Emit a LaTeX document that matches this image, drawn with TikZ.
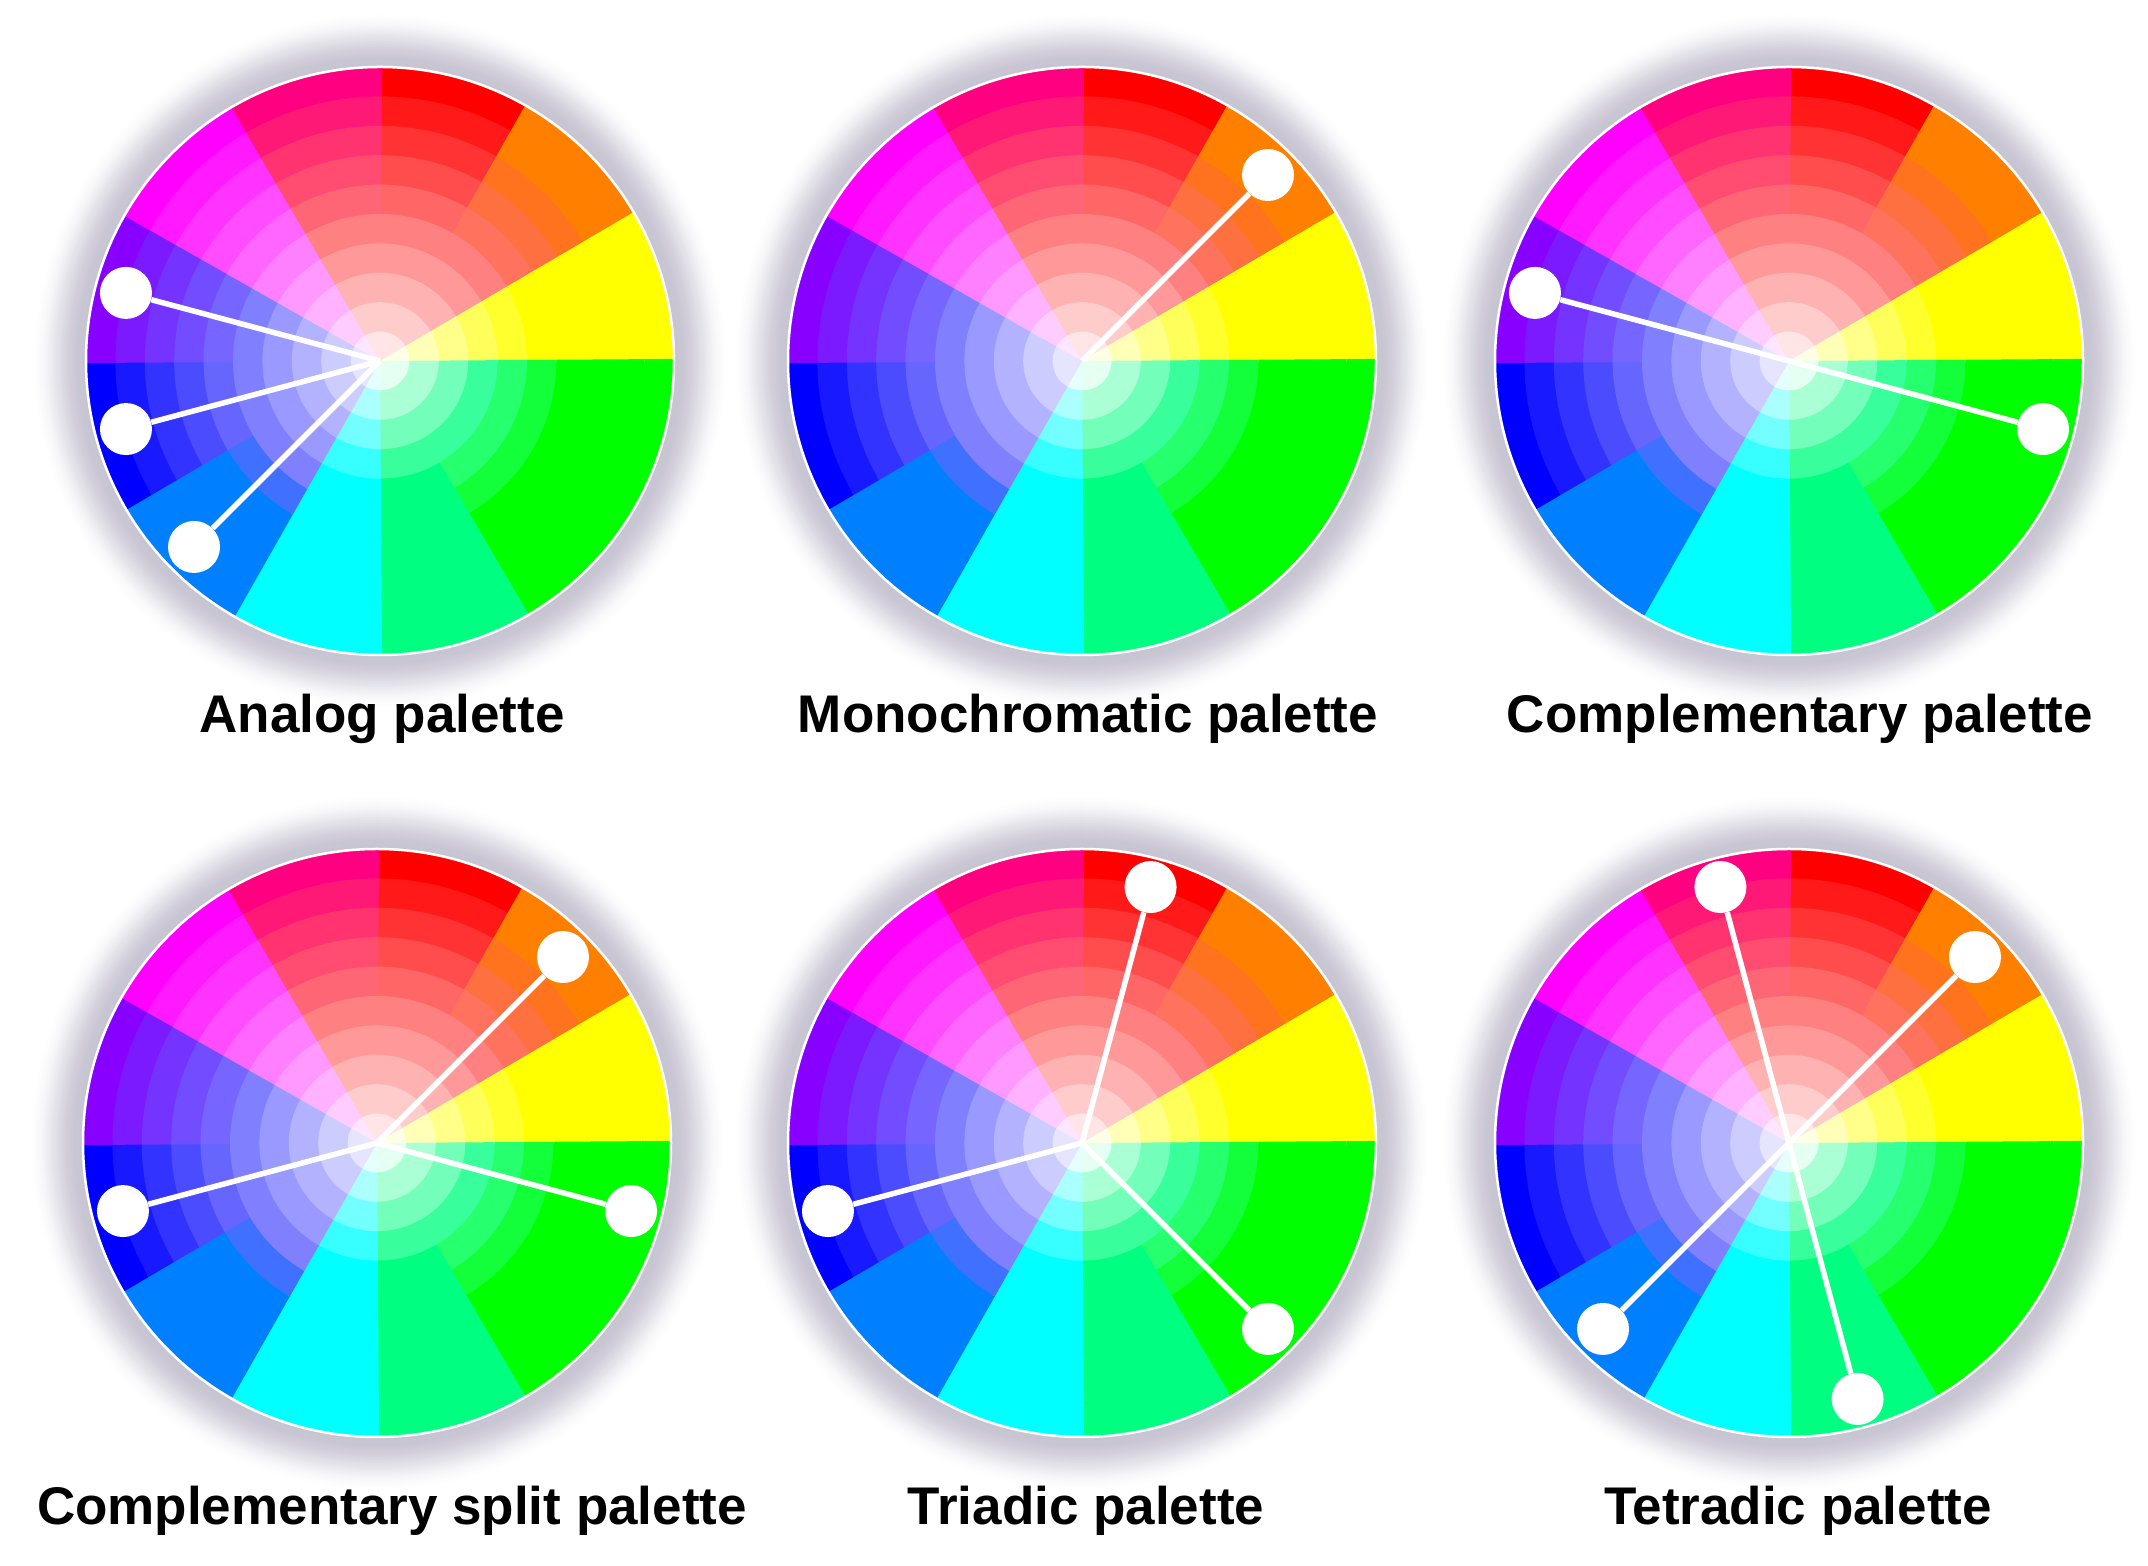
\documentclass[tikz,border=0pt]{standalone}
\usepackage{fontspec}
\setmainfont{Liberation Sans}
\definecolor{cR}{HTML}{FF0000}
\definecolor{cO}{HTML}{FF8000}
\definecolor{cY}{HTML}{FFFF00}
\definecolor{cG}{HTML}{00FF00}
\definecolor{cS}{HTML}{00FF80}
\definecolor{cC}{HTML}{00FFFF}
\definecolor{cA}{HTML}{0080FF}
\definecolor{cB}{HTML}{0000FF}
\definecolor{cV}{HTML}{8800FF}
\definecolor{cM}{HTML}{FF00FF}
\definecolor{cP}{HTML}{FF0080}
\definecolor{halo}{HTML}{C8C5D3}
\tikzset{
  wheeldot/.style={circle, fill=white, minimum size=52pt, inner sep=0pt},
  spoke/.style={white, line width=5.5pt},
  caption/.style={anchor=base, inner sep=0pt, font=\fontsize{53}{60}\selectfont\bfseries},
  rim/.style={white, line width=2.5pt}
}
\newcommand\wheelhalo[1]{%
  \foreach \j in {28,...,0}{%
    \pgfmathsetmacro\xx{max(0,min(1,(2*\j-4)/52))}%
    \pgfmathtruncatemacro\pp{100*(1-\xx*\xx*(3-2*\xx))}%
    \fill[halo!\pp!white] (#1) circle[radius=294+2*\j];
  }}
% sector list: outer colour / inner hue / hue start / hue end / white start / group white start
\newcommand\colorwheel[1]{%
  \foreach \k in {0,...,9}{%
    \pgfmathsetmacro\rr{29.4*(10-\k)}%
    \foreach \base/\grp/\hs/\he/\ws/\gws [count=\i from 0] in
      {cR/cR/0/0/0/0, cO/cR/1/5/1/0, cY/cY/4/4/4/4, cG/cS/3/6/3/5,
       cG/cS/3/6/3/5, cS/cS/5/5/5/5, cC/cC/5/5/5/5, cA/cB/3/5/3/0,
       cB/cB/0/0/0/0, cV/cB/0/5/0/0, cM/cM/0/0/0/0, cP/cR/0/5/0/0}{%
      \pgfmathsetmacro\wgk{90*max(0,\k-\gws)/(9-\gws)}%
      \pgfmathsetmacro\wge{90*max(0,\he-\gws)/(9-\gws)}%
      \pgfmathtruncatemacro\ww{(\k>=\he) ? \wgk : ((\k<=\ws) ? 0 : \wge*(\k-\ws)/max(1,\he-\ws))}%
      \pgfmathtruncatemacro\hh{(\k>=\he) ? 100 : ((\k<=\hs) ? 0 : 100*(\k-\hs)/max(1,\he-\hs))}%
      \colorlet{tmpA}{\grp!\hh!\base}%
      \colorlet{tmpB}{white!\ww!tmpA}%
      \pgfmathsetmacro\aa{90-30*\i+0.4}%
      \pgfmathsetmacro\bb{60-30*\i-0.4}%
      \fill[tmpB] (#1) -- ++(\aa:\rr) arc[start angle=\aa, end angle=\bb, radius=\rr] -- cycle;
    }
  }
  \draw[rim] (#1) circle[radius=294];
}
\begin{document}
\begin{tikzpicture}[x=1pt,y=1pt]
\fill[white] (0,0) rectangle (2148,1566);
\useasboundingbox (0,0) rectangle (2148,1566);
\coordinate (w1) at (380,1205);
\coordinate (w2) at (1082,1205);
\coordinate (w3) at (1789,1205);
\coordinate (w4) at (377,423);
\coordinate (w5) at (1082,423);
\coordinate (w6) at (1789,423);
\foreach \w in {w1,w2,w3,w4,w5,w6}{\wheelhalo{\w}}
\foreach \w in {w1,w2,w3,w4,w5,w6}{\colorwheel{\w}}
% Analog
\node[wheeldot] (a1) at ([shift={(165:263)}]w1) {};
\node[wheeldot] (a2) at ([shift={(195:263)}]w1) {};
\node[wheeldot] (a3) at ([shift={(225:263)}]w1) {};
\draw[spoke] (w1) -- (a1); \draw[spoke] (w1) -- (a2); \draw[spoke] (w1) -- (a3);
% Monochromatic
\node[wheeldot] (m1) at ([shift={(45:263)}]w2) {};
\draw[spoke] (w2) -- (m1);
% Complementary
\node[wheeldot] (c1) at ([shift={(165:263)}]w3) {};
\node[wheeldot] (c2) at ([shift={(-15:263)}]w3) {};
\draw[spoke] (w3) -- (c1); \draw[spoke] (w3) -- (c2);
% Complementary split
\node[wheeldot] (s1) at ([shift={(45:263)}]w4) {};
\node[wheeldot] (s2) at ([shift={(195:263)}]w4) {};
\node[wheeldot] (s3) at ([shift={(-15:263)}]w4) {};
\draw[spoke] (w4) -- (s1); \draw[spoke] (w4) -- (s2); \draw[spoke] (w4) -- (s3);
% Triadic
\node[wheeldot] (t1) at ([shift={(75:265)}]w5) {};
\node[wheeldot] (t2) at ([shift={(195:263)}]w5) {};
\node[wheeldot] (t3) at ([shift={(-45:263)}]w5) {};
\draw[spoke] (w5) -- (t1); \draw[spoke] (w5) -- (t2); \draw[spoke] (w5) -- (t3);
% Tetradic
\node[wheeldot] (q1) at ([shift={(105:265)}]w6) {};
\node[wheeldot] (q2) at ([shift={(45:263)}]w6) {};
\node[wheeldot] (q3) at ([shift={(225:263)}]w6) {};
\node[wheeldot] (q4) at ([shift={(-75:265)}]w6) {};
\draw[spoke] (w6) -- (q1); \draw[spoke] (w6) -- (q2); \draw[spoke] (w6) -- (q3); \draw[spoke] (w6) -- (q4);
% captions
\node[caption] (l1) at (382,833) {Analog palette};
\node[caption] (l2) at (1088,833) {Monochromatic palette};
\node[caption] (l3) at (1800,833) {Complementary palette};
\node[caption] (l4) at (392,41) {Complementary split palette};
\node[caption] (l5) at (1086,41) {Triadic palette};
\node[caption] (l6) at (1798,41) {Tetradic palette};
\end{tikzpicture}
\end{document}
